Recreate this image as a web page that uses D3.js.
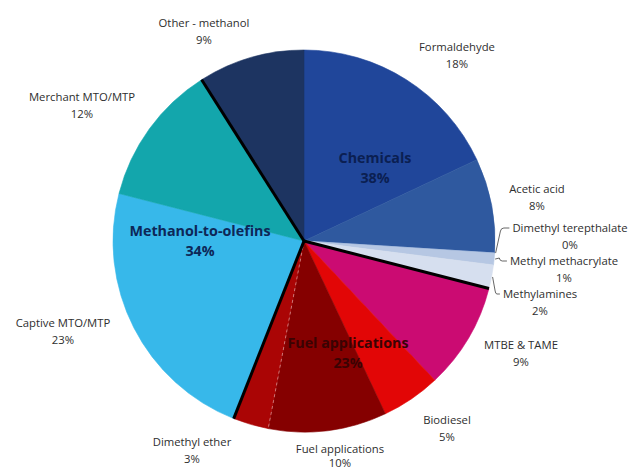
<!DOCTYPE html>
<html>
<head>
<meta charset="utf-8">
<script src="https://cdn.jsdelivr.net/npm/d3@7"></script>
<style>
  html, body { margin: 0; padding: 0; background: #fff; }
  svg { display: block; }
  text { font-family: "Open Sans", "Noto Sans", sans-serif; }
</style>
</head>
<body>
<svg id="chart" width="632" height="469"></svg>
<script>
// Methanol demand by end use, clockwise from 12 o'clock
const categories = [
  "Formaldehyde", "Acetic acid", "Dimethyl terepthalate", "Methyl methacrylate",
  "Methylamines", "MTBE & TAME", "Biodiesel", "Fuel applications",
  "Dimethyl ether", "Captive MTO/MTP", "Merchant MTO/MTP", "Other - methanol"
];
const shares = [18, 8, 0, 1, 2, 9, 5, 10, 3, 23, 12, 9];
const sliceColors = [
  "#20469a", "#2f599f", "#6f8fc6", "#b6c7e3",
  "#d6dfef", "#cb0b72", "#e20606", "#850000",
  "#aa0505", "#37b8ea", "#13a6ac", "#1d3461"
];

// Group totals written inside the pie
const groups = ["Chemicals", "Methanol-to-olefins", "Fuel applications"];
const groupShares = [38, 34, 23];
// Slices that close each group (a black divider follows them)
const groupEnds = ["Methylamines", "Dimethyl ether", "Merchant MTO/MTP"];

const svg = d3.select("#chart");
const cx = 304, cy = 241, R = 191;
const g = svg.append("g").attr("transform", `translate(${cx},${cy})`);

const pie = d3.pie().sort(null).value(d => d.v).startAngle(0).endAngle(2 * Math.PI);
const arcs = pie(categories.map((c, i) => ({ c, v: shares[i], col: sliceColors[i] })));
const arc = d3.arc().innerRadius(0).outerRadius(R);

g.selectAll("path.slice")
  .data(arcs)
  .join("path")
  .attr("class", "slice")
  .attr("d", arc)
  .attr("fill", d => d.data.col)
  .attr("stroke", d => d.data.col)
  .attr("stroke-width", 0.6);

const pt = (a, r) => [r * Math.sin(a), -r * Math.cos(a)];

// faint dashed seam between fuel applications and dimethyl ether
const seam = arcs.find(d => d.data.c === "Fuel applications").endAngle;
g.append("line")
  .attr("x1", 0).attr("y1", 0)
  .attr("x2", pt(seam, R)[0]).attr("y2", pt(seam, R)[1])
  .attr("stroke", "#ffffff").attr("stroke-opacity", 0.55)
  .attr("stroke-width", 0.8).attr("stroke-dasharray", "3,3");

// black dividers between groups
g.selectAll("line.divider")
  .data(arcs.filter(d => groupEnds.includes(d.data.c)))
  .join("line")
  .attr("class", "divider")
  .attr("x1", 0).attr("y1", 0)
  .attr("x2", d => pt(d.endAngle, R)[0])
  .attr("y2", d => pt(d.endAngle, R)[1])
  .attr("stroke", "#000").attr("stroke-width", 3)
  .attr("stroke-linecap", "butt");

// Slice labels: name on the first line, share on the second
const labelPos = {
  "Formaldehyde": [457, 47],
  "Acetic acid": [537, 189],
  "Dimethyl terepthalate": [570, 228],
  "Methyl methacrylate": [564, 261],
  "Methylamines": [540, 294],
  "MTBE & TAME": [521, 345],
  "Biodiesel": [447, 420],
  "Fuel applications": [340, 449],
  "Dimethyl ether": [192, 442],
  "Captive MTO/MTP": [63, 323],
  "Merchant MTO/MTP": [82, 97],
  "Other - methanol": [204, 23]
};
const lineGap = { "Fuel applications": 14 };

const lab = svg.append("g").attr("font-size", 11.3).attr("fill", "#2e2e2e");
arcs.forEach((d, i) => {
  const [x, y] = labelPos[d.data.c];
  const gap = lineGap[d.data.c] || 17;
  const t = lab.append("text").attr("text-anchor", "middle");
  t.append("tspan").attr("x", x).attr("y", y).attr("dy", "0.35em").text(d.data.c);
  t.append("tspan").attr("x", x).attr("y", y + gap).attr("dy", "0.35em").text(shares[i] + "%");
});

// leader lines for the three thin slices on the right
const leaders = ["Dimethyl terepthalate", "Methyl methacrylate", "Methylamines"];
arcs.filter(d => leaders.includes(d.data.c)).forEach(d => {
  const mid = (d.startAngle + d.endAngle) / 2;
  const [sx, sy] = pt(mid, R + 1);
  const x0 = cx + sx, y0 = cy + sy;
  const [lx, ly] = labelPos[d.data.c];
  const bbox = lab.selectAll("text").filter(function () {
    return d3.select(this).select("tspan").text() === d.data.c;
  }).node().getBBox();
  const ex = bbox.x - 3;
  const ey = ly;
  const path = d3.path();
  path.moveTo(x0, y0);
  path.lineTo(x0 + (ex - x0) * 0.35, ey + (y0 > ey ? 3 : -3));
  path.quadraticCurveTo(x0 + (ex - x0) * 0.4, ey, x0 + (ex - x0) * 0.6, ey);
  path.lineTo(ex, ey);
  svg.append("path").attr("d", path.toString())
    .attr("fill", "none").attr("stroke", "#555").attr("stroke-width", 0.9);
});

// Group totals inside the pie
const groupPos = [[375, 158], [200, 231], [348, 343]];
const groupColors = ["#0b1f52", "#0d2757", "#3a0303"];
groups.forEach((name, i) => {
  const [x, y] = groupPos[i];
  const t = svg.append("text").attr("text-anchor", "middle")
    .attr("font-size", 14.3).attr("font-weight", "bold").attr("fill", groupColors[i]);
  t.append("tspan").attr("x", x).attr("y", y).attr("dy", "0.35em").text(name);
  t.append("tspan").attr("x", x).attr("y", y + 20).attr("dy", "0.35em").text(groupShares[i] + "%");
});
</script>
</body>
</html>
